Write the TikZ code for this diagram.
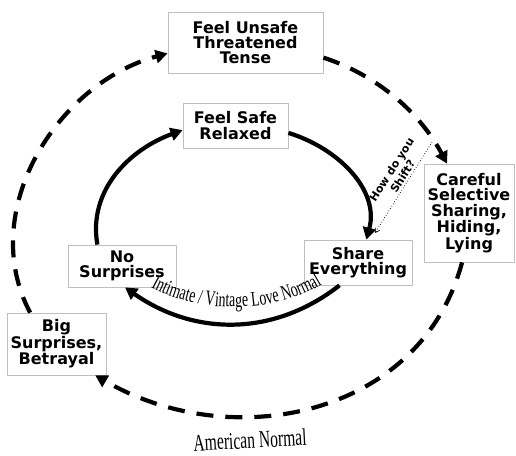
\documentclass[tikz,border=0pt]{standalone}
\usepackage{fontspec}
\usepackage{tikz}
\usetikzlibrary{arrows.meta,decorations.text}
\newfontfamily\boxfont{DejaVu Sans}
\newfontfamily\arcfont{Liberation Serif}[FakeStretch=0.66]
\newfontfamily\normfont{Liberation Serif}[FakeStretch=0.65]

\begin{document}
\begin{tikzpicture}[line join=round,x=1bp,y=1bp,
    >={Triangle[length=12bp,width=13bp]},
    stage/.style={draw=black!25,line width=0.8bp,fill=white,align=center,inner sep=0pt,
        font=\boxfont\bfseries\fontsize{16bp}{15.4bp}\selectfont},
    cycle/.style={line width=4.2bp,->},
    outer/.style={cycle,dash pattern=on 17bp off 12bp}]
    \useasboundingbox (0,0) rectangle (516,456);
    \node[stage,minimum width=155bp,minimum height=61bp] (unsafe) at (245.5,413.5) {Feel Unsafe\\Threatened\\Tense};
    \node[stage,minimum width=105bp,minimum height=45bp] (safe) at (235.5,330.5) {Feel Safe\\Relaxed};
    \node[stage,minimum width=108bp,minimum height=45bp] (share) at (358,193.5) {Share\\Everything};
    \node[stage,minimum width=108bp,minimum height=42bp] (nosurp) at (122,190) {No\\Surprises};
    \node[stage,minimum width=90bp,minimum height=98bp] (careful) at (469,243) {Careful\\Selective\\Sharing,\\Hiding,\\Lying};
    \node[stage,minimum width=99bp,minimum height=62bp] (big) at (56.5,112) {Big\\Surprises,\\Betrayal};
    \draw[outer] (big.130) to[out=118,in=195] (unsafe.188);
    \draw[outer] (unsafe.-11) to[out=-18,in=118,looseness=0.9] (careful.114);
    \draw[outer] (careful.262) to[out=255,in=-30,looseness=1.06] (big.-39);
    \draw[cycle] (safe.-8) to[out=-17,in=75] (share.70);
    \draw[cycle] (share.231) to[out=218,in=-35] (nosurp.-82);
    \draw[cycle] (nosurp.139) to[out=100,in=200] (safe.185);
    \coordinate (shiftfrom) at (432,314);
    \coordinate (shiftto) at (375,223);
    \draw[dotted,line width=0.7bp,-{Straight Barb[length=4bp,width=5bp]}] (shiftfrom) -- (shiftto);
    \node[font=\boxfont\bfseries\fontsize{11bp}{13bp}\selectfont,align=center,rotate=57.5] (shift) at (397,283) {How do you\\Shift?};
    \coordinate (inner) at (234,236);
    \path[decorate,decoration={text along path,text align=center,
        text={|\arcfont\fontsize{21bp}{21bp}\selectfont|Intimate / Vintage Love Normal}}]
        (inner) ++(225:131 and 87) arc[start angle=225,end angle=318,x radius=131,y radius=87];
    \node[font=\normfont\fontsize{24bp}{24bp}\selectfont,rotate=3] (amnormal) at (250,16) {American Normal};
\end{tikzpicture}
\end{document}
